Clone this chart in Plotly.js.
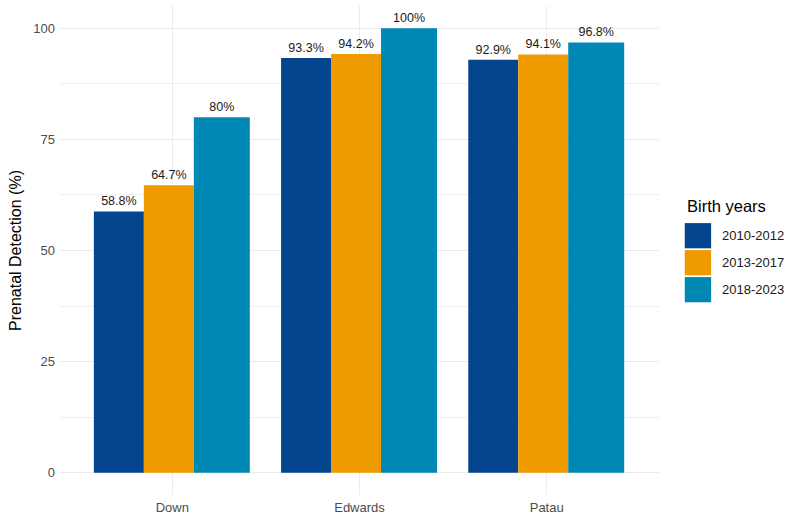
<!DOCTYPE html>
<html>
<head>
<meta charset="utf-8">
<script src="https://cdn.plot.ly/plotly-3.0.1.min.js"></script>
<style>html,body{margin:0;padding:0;background:#fff;}#chart{width:800px;height:521px;}</style>
</head>
<body>
<div id="chart"></div>
<script>
// ---- data ----
const categories = ["Down", "Edwards", "Patau"];
const seriesNames = ["2010-2012", "2013-2017", "2018-2023"];
const values2010_2012 = [58.8, 93.3, 92.9];
const values2013_2017 = [64.7, 94.2, 94.1];
const values2018_2023 = [80, 100, 96.8];
const yTickVals = [0, 25, 50, 75, 100];
const legendTitle = "Birth years";
const yTitle = "Prenatal Detection (%)";

// ---- styles ----
const colors = ["#03458F", "#EF9B00", "#0087B4"];
const offsets = [-0.419, -0.152, 0.115];
const widths = [0.267, 0.267, 0.299];
const font = "Liberation Sans, Arial, sans-serif";

const seriesValues = [values2010_2012, values2013_2017, values2018_2023];
const traces = seriesValues.map((vals, i) => ({
  type: "bar",
  name: seriesNames[i],
  x: categories,
  y: vals,
  offset: offsets[i],
  width: widths[i],
  marker: {color: colors[i], line: {width: 0}},
  text: vals.map(v => String(v) + "%"),
  textposition: "outside",
  textfont: {family: font, size: 12.5, color: "#1a1a1a"},
  cliponaxis: false,
  hoverinfo: "x+y+name",
  showlegend: false
}));

// legend drawn from series names/colours
const shapes = [];
const annotations = [{
  xref: "paper", yref: "paper", x: 1.043, y: 0.592,
  xanchor: "left", yanchor: "middle", showarrow: false,
  text: legendTitle, font: {family: font, size: 16.5, color: "#000"}
}];
const swTop = 0.556, swH = 0.0515, swGap = 0.0552;
seriesNames.forEach((n, i) => {
  const top = swTop - i * swGap;
  shapes.push({
    type: "rect", xref: "paper", yref: "paper",
    x0: 1.043, x1: 1.087, y0: top - swH, y1: top,
    fillcolor: colors[i], line: {width: 0}
  });
  annotations.push({
    xref: "paper", yref: "paper", x: 1.102, y: top - swH / 2,
    xanchor: "left", yanchor: "middle", showarrow: false,
    text: n, font: {family: font, size: 13, color: "#1a1a1a"}
  });
});

const layout = {
  width: 800, height: 521,
  margin: {l: 60, r: 141, t: 6, b: 26},
  paper_bgcolor: "#fff", plot_bgcolor: "#fff",
  barmode: "overlay",
  showlegend: false,
  font: {family: font},
  xaxis: {
    type: "category",
    range: [-0.6, 2.6],
    showgrid: true, gridcolor: "#ebebeb", gridwidth: 1,
    zeroline: false, showline: false, ticks: "",
    ticklabelstandoff: 3,
    tickfont: {family: font, size: 13, color: "#4d4d4d"},
    fixedrange: true
  },
  yaxis: {
    range: [-5, 105],
    tickvals: yTickVals,
    ticktext: yTickVals.map(String),
    showgrid: true, gridcolor: "#ebebeb", gridwidth: 1,
    minor: {dtick: 12.5, showgrid: true, gridcolor: "#efefef", gridwidth: 1, tick0: 0},
    zeroline: false, showline: false, ticks: "",
    ticklabelstandoff: 4,
    tickfont: {family: font, size: 13, color: "#4d4d4d"},
    title: {text: yTitle, font: {family: font, size: 16, color: "#000"}, standoff: 7},
    fixedrange: true
  },
  shapes: shapes,
  annotations: annotations
};

Plotly.newPlot("chart", traces, layout, {displayModeBar: false, staticPlot: true});
</script>
</body>
</html>
